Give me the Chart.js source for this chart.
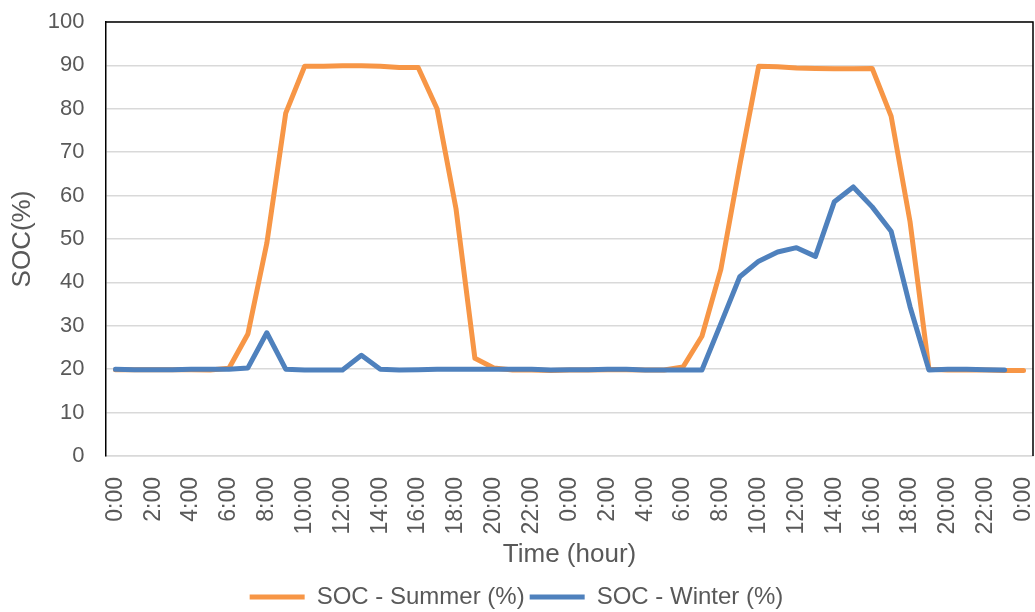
<!DOCTYPE html>
<html>
<head>
<meta charset="utf-8">
<script src="https://cdn.jsdelivr.net/npm/chart.js@4/dist/chart.umd.min.js"></script>
<style>
  html, body { margin: 0; padding: 0; background: #fff; }
  #wrap { width: 1035px; height: 612px; }
</style>
</head>
<body>
<div id="wrap"><canvas id="socChart" width="1035" height="612"></canvas></div>
<script>
//-----------------------------------------------------
// data (hourly, two days)
//-----------------------------------------------------
const hours = [
  "0:00", "1:00", "2:00", "3:00", "4:00", "5:00", "6:00", "7:00", "8:00", "9:00",
  "10:00", "11:00", "12:00", "13:00", "14:00", "15:00", "16:00", "17:00", "18:00", "19:00",
  "20:00", "21:00", "22:00", "23:00",
  "0:00", "1:00", "2:00", "3:00", "4:00", "5:00", "6:00", "7:00", "8:00", "9:00",
  "10:00", "11:00", "12:00", "13:00", "14:00", "15:00", "16:00", "17:00", "18:00", "19:00",
  "20:00", "21:00", "22:00", "23:00",
  "0:00"
];

const socSummer = [
  19.9, 19.9, 19.9, 19.9, 19.9, 19.8, 20.2, 28.1, 49.0, 79.0,
  89.8, 89.8, 89.9, 89.9, 89.8, 89.5, 89.5, 80.0, 57.0, 22.5,
  20.3, 19.8, 19.8, 19.7,
  19.8, 19.8, 19.9, 19.9, 19.8, 19.8, 20.5, 27.6, 43.0, 67.0,
  89.8, 89.7, 89.4, 89.3, 89.2, 89.2, 89.3, 78.3, 54.0, 20.0,
  19.8, 19.8, 19.8, 19.7,
  19.7
];

const socWinter = [
  20.0, 19.9, 19.9, 19.9, 20.0, 20.0, 20.0, 20.3, 28.4, 20.0,
  19.8, 19.8, 19.8, 23.2, 20.0, 19.8, 19.9, 20.0, 20.0, 20.0,
  20.0, 20.0, 20.0, 19.8,
  19.9, 19.9, 20.0, 20.0, 19.8, 19.8, 19.8, 19.8, 30.5, 41.3,
  44.9, 47.0, 48.0, 46.0, 58.6, 62.0, 57.4, 51.8, 34.4, 19.8,
  20.0, 20.0, 19.9, 19.8,
  null
];

const yTicks = { min: 0, max: 100, step: 10 };

//-----------------------------------------------------
// black frame on top / right of plot
//-----------------------------------------------------
const frame = {
  id: "frame",
  afterDatasetsDraw(chart) {
    const { ctx, chartArea: a } = chart;
    ctx.save();
    ctx.strokeStyle = "#000";
    ctx.lineWidth = 1.5;
    ctx.beginPath();
    ctx.moveTo(a.left, a.top);
    ctx.lineTo(a.right, a.top);
    ctx.lineTo(a.right, a.bottom);
    ctx.stroke();
    ctx.restore();
  }
};

const txt = "#595959";
const fam = "'Liberation Sans', Arial, sans-serif";

new Chart(document.getElementById("socChart"), {
  type: "line",
  data: {
    labels: hours,
    datasets: [
      {
        label: "SOC - Summer (%)",
        data: socSummer,
        borderColor: "#F79646",
        backgroundColor: "#F79646",
        borderWidth: 5,
        pointRadius: 0,
        tension: 0,
        borderJoinStyle: "round",
        borderCapStyle: "round",
        order: 2
      },
      {
        label: "SOC - Winter (%)",
        data: socWinter,
        borderColor: "#4F81BD",
        backgroundColor: "#4F81BD",
        borderWidth: 5,
        pointRadius: 0,
        tension: 0,
        borderJoinStyle: "round",
        borderCapStyle: "round",
        order: 1
      }
    ]
  },
  options: {
    responsive: false,
    animation: false,
    layout: { padding: { top: 22, right: 2, left: 0, bottom: -7 } },
    plugins: {
      tooltip: { enabled: false },
      legend: {
        position: "bottom",
        labels: {
          color: txt,
          font: { family: fam, size: 24 },
          boxWidth: 55,
          boxHeight: 5,
          padding: 5,
          sort: (a, b) => a.datasetIndex - b.datasetIndex,
          generateLabels: (chart) =>
            Chart.defaults.plugins.legend.labels.generateLabels(chart).map((l) => ({
              ...l, lineWidth: 0, fillStyle: l.strokeStyle
            }))
        }
      }
    },
    scales: {
      x: {
        offset: true,
        afterFit: (s) => {
          s.paddingRight = 0;
          s.paddingLeft = 0;
          s.height = 619 - 456 - s.chart.legend.height;
        },
        grid: { display: false },
        border: { display: true, color: "#d9d9d9", width: 1.5 },
        title: {
          display: true,
          text: "Time (hour)",
          color: txt,
          font: { family: fam, size: 26 },
          padding: { top: 4, bottom: 10 }
        },
        ticks: {
          color: txt,
          font: { family: fam, size: 23 },
          autoSkip: false,
          minRotation: 90,
          maxRotation: 90,
          padding: 13,
          callback: function (v, i) { return i % 2 === 0 ? hours[i] : ""; }
        }
      },
      y: {
        min: yTicks.min,
        max: yTicks.max,
        afterFit: (s) => {
          s.width = 106;
          s.paddingTop = 0;
          s.paddingBottom = 0;
        },
        grid: { color: "#d9d9d9", lineWidth: 1.5, drawTicks: false },
        border: { display: true, color: "#000", width: 1.5 },
        title: {
          display: true,
          text: "SOC(%)",
          color: txt,
          font: { family: fam, size: 26 },
          padding: { top: 7, bottom: 0 }
        },
        ticks: {
          stepSize: yTicks.step,
          color: txt,
          font: { family: fam, size: 22 },
          padding: 21.5
        }
      }
    }
  },
  plugins: [frame]
});
</script>
</body>
</html>
